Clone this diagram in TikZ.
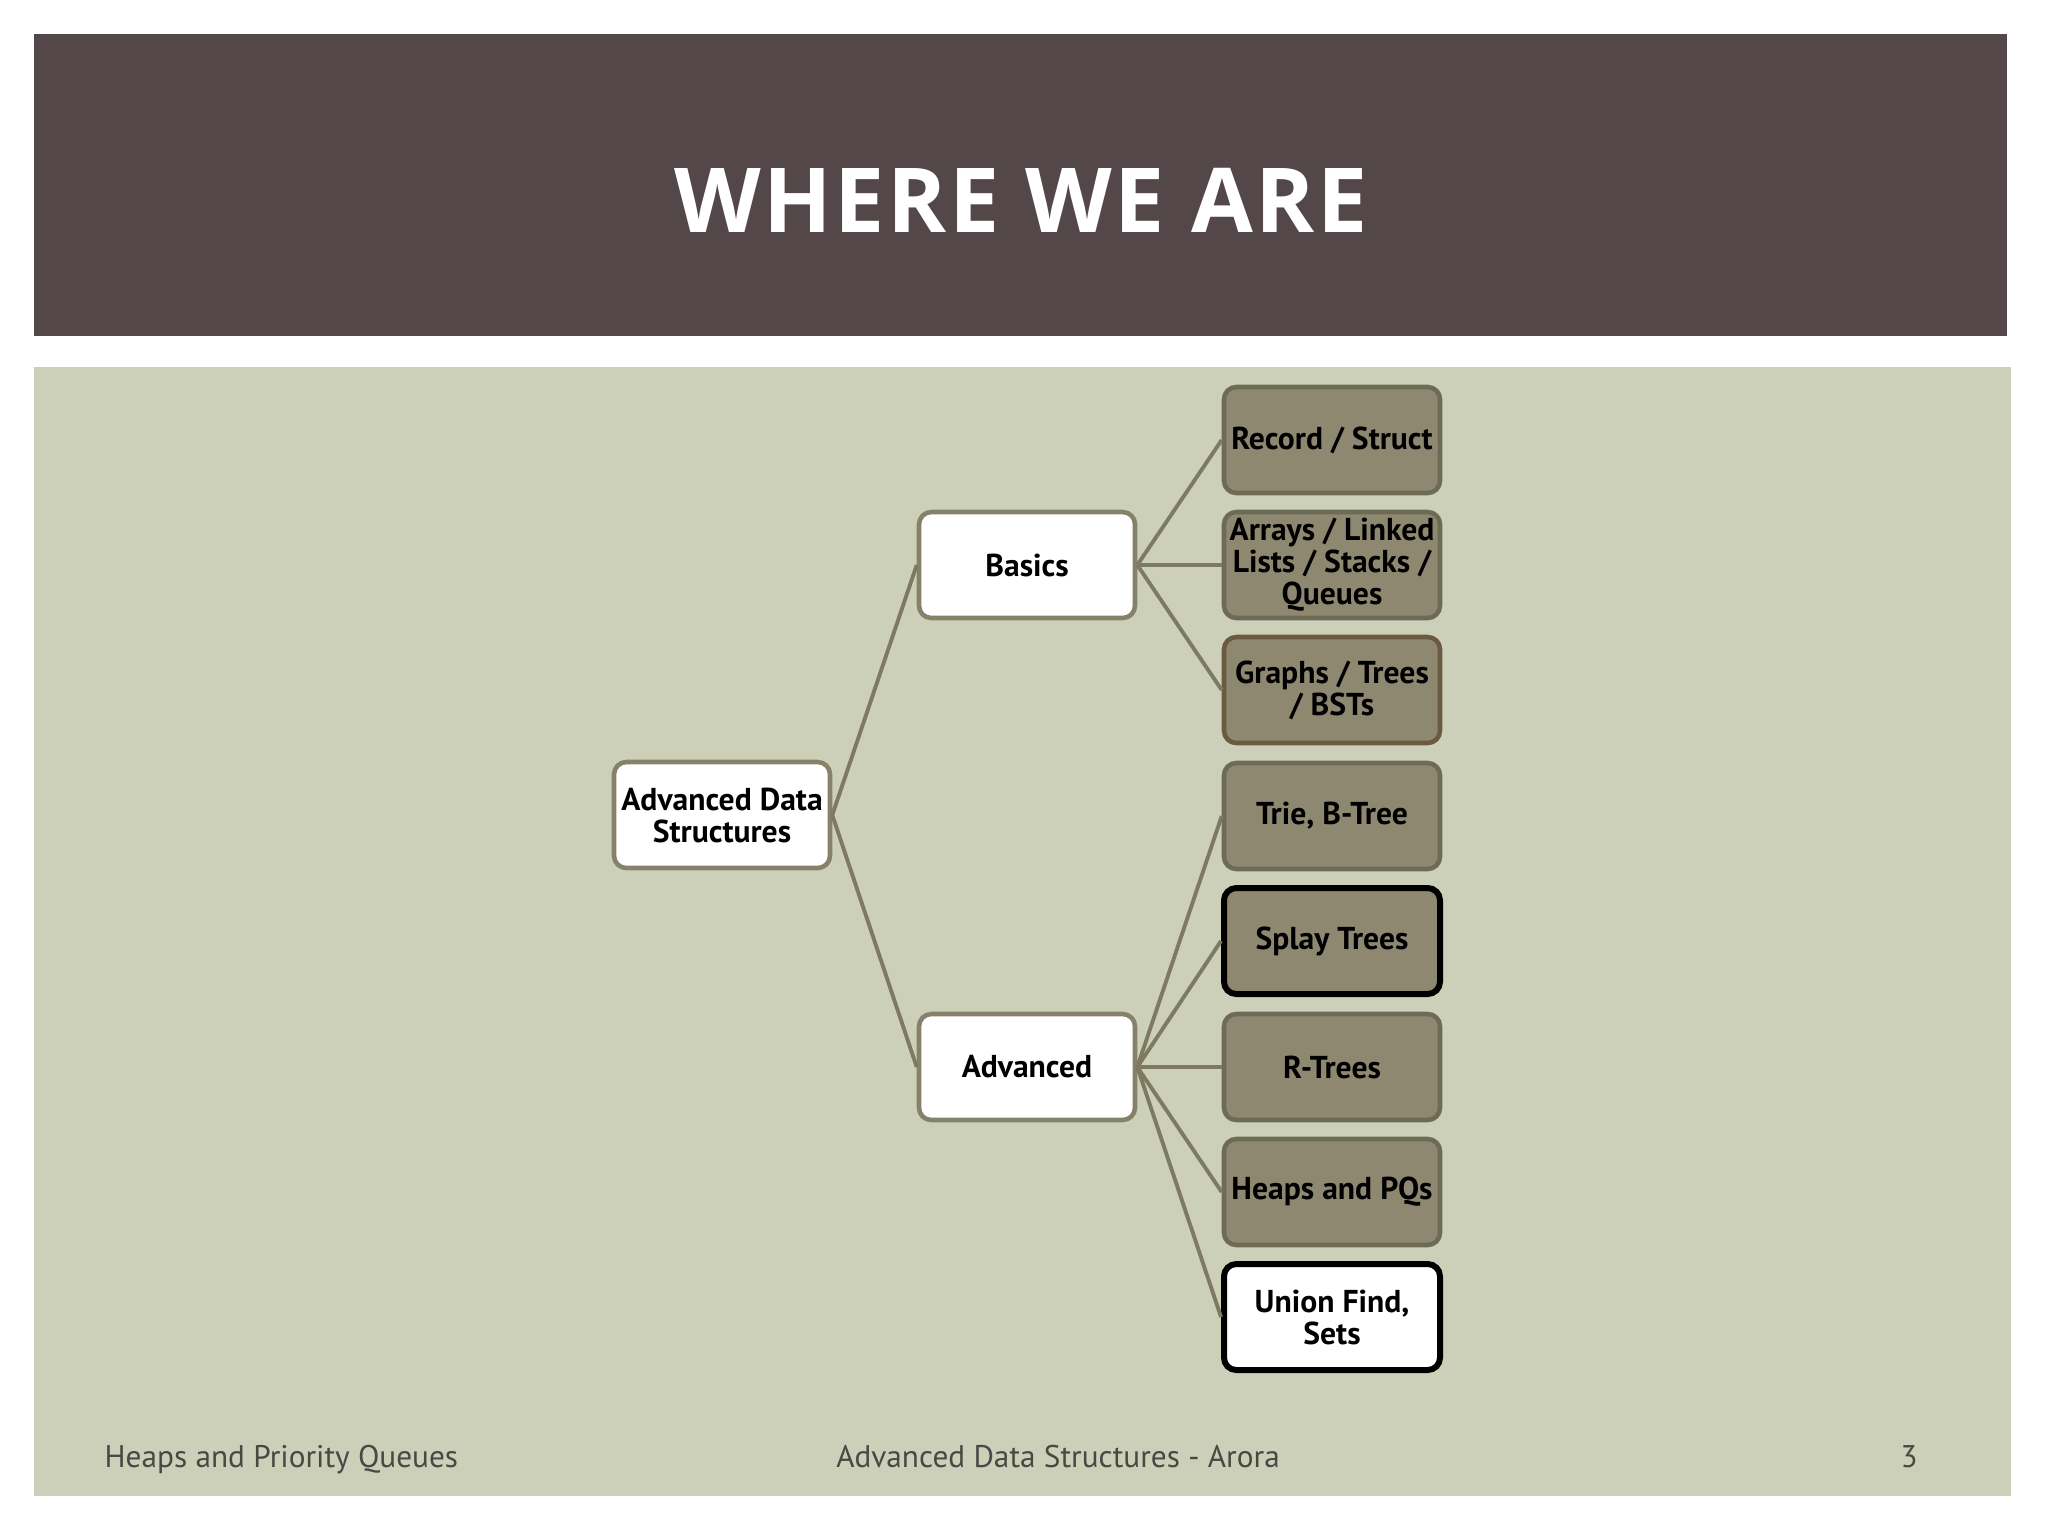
\documentclass[tikz,border=0pt]{standalone}
\usepackage{fontspec}
\setmainfont{PT Sans}
\newfontfamily\titlefont[LetterSpace=3]{Open Sans}
\newfontfamily\boxfont{PT Sans}
\definecolor{bandgray}{HTML}{544749}
\definecolor{sage}{HTML}{CDD0B8}
\definecolor{boxfill}{HTML}{8F8871}
\definecolor{boxline}{HTML}{6D6A56}
\definecolor{whiteline}{HTML}{86826A}
\definecolor{brownline}{HTML}{6A5A40}
\definecolor{linkcol}{HTML}{7E7A62}
\definecolor{foottext}{HTML}{4A4744}

\begin{document}
\begin{tikzpicture}[x=0.1mm, y=0.1mm]
        \tikzstyle{every node}+=[inner sep=0pt]
        \tikzstyle{item}=[draw=boxline, fill=boxfill, line width=1.3pt, rounded corners=3.5pt, minimum width=2.16cm, minimum height=1.06cm, align=center, font=\boxfont\bfseries\fontsize{9}{9.1}\selectfont]
        \tikzstyle{topic}=[item, draw=whiteline, fill=white]
        \tikzstyle{link}=[linkcol, line width=1.1pt]
        \tikzstyle{foot}=[anchor=base, text=foottext, font=\fontsize{8.9}{10}\selectfont]
        \useasboundingbox (0,0) rectangle (2048,-1536);
        \fill [white] (0,0) rectangle (2048,-1536);
        % title band and slide body
        \fill [bandgray] (34,-34) rectangle (2007,-336);
        \node [anchor=base, text=white, font=\titlefont\bfseries\fontsize{25.5}{30}\selectfont] (title) at (1021,-232) {WHERE WE ARE};
        \fill [sage] (34,-367) rectangle (2011,-1496);
        % tree
        \node [topic] (ads) at (722,-815) {Advanced Data\\Structures};
        \node [topic] (basics) at (1027,-565) {Basics};
        \node [topic] (adv) at (1027,-1067) {Advanced};
        \node [item] (rec) at (1332,-440) {Record / Struct};
        \node [item] (arr) at (1332,-565) {Arrays / Linked\\Lists / Stacks /\\Queues};
        \node [item, draw=brownline] (gra) at (1332,-690) {Graphs / Trees\\/ BSTs};
        \node [item] (trie) at (1332,-816) {Trie, B-Tree};
        \node [item, draw=black, line width=1.7pt] (splay) at (1332,-941) {Splay Trees};
        \node [item] (rtree) at (1332,-1067) {R-Trees};
        \node [item] (heap) at (1332,-1192) {Heaps and PQs};
        \node [item, draw=black, fill=white, line width=1.7pt] (uf) at (1332,-1317) {Union Find,\\Sets};
        \draw [link] (ads.east) -- (basics.west);
        \draw [link] (ads.east) -- (adv.west);
        \foreach \k in {rec,arr,gra}
            \draw [link] (basics.east) -- (\k.west);
        \foreach \k in {trie,splay,rtree,heap,uf}
            \draw [link] (adv.east) -- (\k.west);
        % footer
        \node [foot, anchor=base west] (ftl) at (104,-1467) {Heaps and Priority Queues};
        \node [foot] (ftc) at (1058,-1467) {Advanced Data Structures - Arora};
        \node [foot] (ftr) at (1909,-1467) {3};
\end{tikzpicture}
\end{document}
